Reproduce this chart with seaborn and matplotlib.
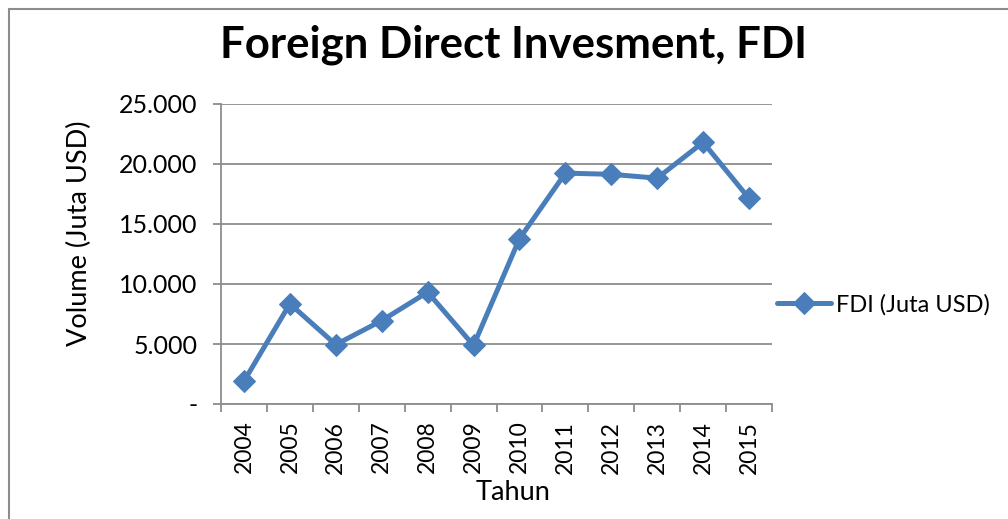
import matplotlib
matplotlib.use("Agg")
import matplotlib.pyplot as plt
import matplotlib.ticker as mticker
from matplotlib.lines import Line2D
import seaborn as sns
import pandas as pd

years = ["2004", "2005", "2006", "2007", "2008", "2009",
         "2010", "2011", "2012", "2013", "2014", "2015"]
fdi = [1900, 8350, 4950, 6950, 9320, 4880,
       13770, 19240, 19140, 18820, 21810, 17130]
series_name = "FDI (Juta USD)"
title = "Foreign Direct Invesment, FDI"
xlabel = "Tahun"
ylabel = "Volume (Juta USD)"
yticks = [0, 5000, 10000, 15000, 20000, 25000]

df = pd.DataFrame({"Tahun": years, "FDI": fdi})

sns.set_theme(style="white")
plt.rcParams["font.family"] = ["Lato", "DejaVu Sans"]
plt.rcParams["text.color"] = "black"
plt.rcParams["axes.labelcolor"] = "black"
plt.rcParams["xtick.color"] = "black"
plt.rcParams["ytick.color"] = "black"

W, H = 1008, 519
fig = plt.figure(figsize=(W / 100, H / 100), dpi=100)
ax = fig.add_axes([221 / W, 1 - 404 / H, (772 - 221) / W, (404 - 104) / H])

blue = "#4A7EBB"
grid = "#8C8C8C"

sns.lineplot(data=df, x="Tahun", y="FDI", ax=ax, color=blue, linewidth=3.6,
             marker="D", markersize=11, markeredgecolor=blue, label=series_name,
             sort=False)

ax.set_ylim(0, 25000)
ax.set_xlim(-0.5, len(years) - 0.5)
ax.set_yticks(yticks)
ax.yaxis.set_major_formatter(mticker.FuncFormatter(
    lambda v, p: "-" if v == 0 else f"{int(v):,}".replace(",", ".")))
ax.grid(axis="y", color=grid, linewidth=1.3)
ax.set_axisbelow(True)

for s in ["top", "right"]:
    ax.spines[s].set_visible(False)
for s in ["left", "bottom"]:
    ax.spines[s].set_color(grid)
    ax.spines[s].set_linewidth(1.3)

ax.tick_params(axis="y", which="major", direction="out", length=6, width=1.3,
               color=grid, labelcolor="black", labelsize=18, pad=11, left=True)
ax.tick_params(axis="x", which="major", length=0, labelsize=16.5, pad=12,
               labelrotation=90, labelcolor="black")
ax.set_xticks(range(len(years)))
ax.set_xticks([i - 0.5 for i in range(len(years) + 1)], minor=True)
ax.tick_params(axis="x", which="minor", direction="out", length=6, width=1.3,
               color=grid, bottom=True)

ax.set_xlabel(xlabel, fontsize=19.5)
ax.set_ylabel(ylabel, fontsize=19.5)
ax.xaxis.set_label_coords((513 - 221) / 551, (404 - 480) / 300)
ax.yaxis.set_label_coords((92 - 221) / 551, (404 - 233.5) / 300)
fig.text(514 / W, 1 - 45 / H, title, fontsize=31.5, fontweight="bold",
         ha="center", va="center")

leg = ax.legend(loc="center left", bbox_to_anchor=(777 / W, 1 - 305 / H),
                bbox_transform=fig.transFigure, frameon=False, fontsize=17,
                handlelength=2.3, handletextpad=0.2, borderaxespad=0,
                borderpad=0)

# chart border (top and left visible)
fig.add_artist(Line2D([8.5 / W, 1.0], [1 - 8.5 / H, 1 - 8.5 / H],
                      transform=fig.transFigure, color="#8C8C8C", linewidth=1.5))
fig.add_artist(Line2D([8.5 / W, 8.5 / W], [0, 1 - 8.5 / H],
                      transform=fig.transFigure, color="#8C8C8C", linewidth=1.5))

fig.savefig("out.png", dpi=100)
